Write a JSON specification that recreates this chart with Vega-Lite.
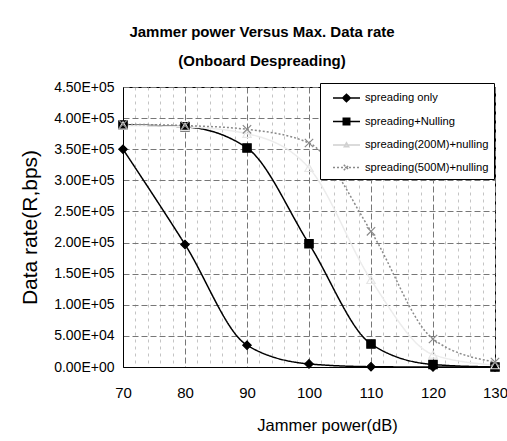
{
  "$schema": "https://vega.github.io/schema/vega-lite/v6.json",
  "width": 372,
  "height": 280,
  "autosize": {"type": "none"},
  "padding": {"left": 123, "top": 87, "right": 12, "bottom": 74},
  "background": "white",
  "config": {
    "font": "Liberation Sans",
    "view": {"stroke": "black", "strokeWidth": 1}
  },
  "title": {
    "text": ["Jammer power Versus Max. Data rate", "(Onboard Despreading)"],
    "font": "Liberation Sans",
    "fontSize": 15,
    "fontWeight": "bold",
    "color": "black",
    "lineHeight": 29,
    "anchor": "middle",
    "dx": -47,
    "offset": 11
  },
  "data": {
    "values": [
      {"series": "spreading only", "power": 70, "rate": 350000},
      {"series": "spreading only", "power": 80, "rate": 197000},
      {"series": "spreading only", "power": 90, "rate": 35000},
      {"series": "spreading only", "power": 100, "rate": 5000},
      {"series": "spreading only", "power": 110, "rate": 500},
      {"series": "spreading only", "power": 120, "rate": 0},
      {"series": "spreading only", "power": 130, "rate": 0},
      {"series": "spreading+Nulling", "power": 70, "rate": 389000},
      {"series": "spreading+Nulling", "power": 80, "rate": 386000},
      {"series": "spreading+Nulling", "power": 90, "rate": 352000},
      {"series": "spreading+Nulling", "power": 100, "rate": 198000},
      {"series": "spreading+Nulling", "power": 110, "rate": 37000},
      {"series": "spreading+Nulling", "power": 120, "rate": 4000},
      {"series": "spreading+Nulling", "power": 130, "rate": 0},
      {"series": "spreading(200M)+nulling", "power": 70, "rate": 388000},
      {"series": "spreading(200M)+nulling", "power": 80, "rate": 386000},
      {"series": "spreading(200M)+nulling", "power": 90, "rate": 375000},
      {"series": "spreading(200M)+nulling", "power": 100, "rate": 320000},
      {"series": "spreading(200M)+nulling", "power": 110, "rate": 140000},
      {"series": "spreading(200M)+nulling", "power": 120, "rate": 20000},
      {"series": "spreading(200M)+nulling", "power": 130, "rate": 3000},
      {"series": "spreading(500M)+nulling", "power": 70, "rate": 390000},
      {"series": "spreading(500M)+nulling", "power": 80, "rate": 388000},
      {"series": "spreading(500M)+nulling", "power": 90, "rate": 382000},
      {"series": "spreading(500M)+nulling", "power": 100, "rate": 360000},
      {"series": "spreading(500M)+nulling", "power": 110, "rate": 218000},
      {"series": "spreading(500M)+nulling", "power": 120, "rate": 45000},
      {"series": "spreading(500M)+nulling", "power": 130, "rate": 8000}
    ]
  },
  "encoding": {
    "x": {
      "field": "power",
      "type": "quantitative",
      "scale": {"domain": [70, 130], "nice": false, "zero": false},
      "axis": {
        "values": [70, 72, 74, 76, 78, 80, 82, 84, 86, 88, 90, 92, 94, 96, 98, 100, 102, 104, 106, 108, 110, 112, 114, 116, 118, 120, 122, 124, 126, 128, 130],
        "labelExpr": "datum.value % 10 === 0 ? datum.label : ''",
        "labelFont": "Liberation Sans Narrow, Liberation Sans",
        "labelFontSize": 15,
        "labelColor": "black",
        "labelPadding": 18,
        "labelFlush": false,
        "labelOverlap": false,
        "ticks": false,
        "domainColor": "black",
        "grid": true,
        "gridColor": {"condition": {"test": "datum.value % 10 === 0", "value": "#777777"}, "value": "#c4c4c4"},
        "gridDash": {"condition": {"test": "datum.value % 10 === 0", "value": [6, 3]}, "value": [3, 4]},
        "gridWidth": 1,
        "title": "Jammer power(dB)",
        "titleFont": "Liberation Sans",
        "titleFontSize": 16.5,
        "titleFontWeight": "normal",
        "titleColor": "black",
        "titleX": 204,
        "titleY": 58,
        "titleBaseline": "middle",
        "titleAlign": "center"
      }
    },
    "y": {
      "field": "rate",
      "type": "quantitative",
      "scale": {"domain": [0, 450000], "nice": false},
      "axis": {
        "values": [0, 50000, 100000, 150000, 200000, 250000, 300000, 350000, 400000, 450000],
        "labelExpr": "datum.value >= 100000 ? format(datum.value / 100000, '.2f') + 'E+05' : datum.value > 0 ? format(datum.value / 10000, '.2f') + 'E+04' : '0.00E+00'",
        "labelFont": "Liberation Sans Narrow, Liberation Sans",
        "labelFontSize": 14,
        "labelColor": "black",
        "labelPadding": 9,
        "labelOverlap": false,
        "labelFlush": false,
        "ticks": false,
        "domainColor": "black",
        "grid": true,
        "gridColor": "#777777",
        "gridDash": [6, 3],
        "gridWidth": 1,
        "title": "Data rate(R,bps)",
        "titleFont": "Liberation Sans",
        "titleFontSize": 21,
        "titleFontWeight": "normal",
        "titleColor": "black",
        "titleX": -93,
        "titleY": 140,
        "titleAngle": -90,
        "titleBaseline": "middle",
        "titleAlign": "center"
      }
    }
  },
  "layer": [
    {
      "mark": {"type": "line", "interpolate": "monotone", "strokeWidth": 1.5},
      "encoding": {
        "stroke": {
          "field": "series",
          "type": "nominal",
          "scale": {
            "domain": ["spreading only", "spreading+Nulling", "spreading(200M)+nulling", "spreading(500M)+nulling"],
            "range": ["#000000", "#000000", "#ececec", "#8a8a8a"]
          },
          "legend": null
        },
        "strokeDash": {
          "field": "series",
          "type": "nominal",
          "scale": {
            "domain": ["spreading only", "spreading+Nulling", "spreading(200M)+nulling", "spreading(500M)+nulling"],
            "range": [[1, 0], [1, 0], [1, 0], [2, 2]]
          },
          "legend": null
        }
      }
    },
    {
      "mark": {"type": "point", "opacity": 1, "strokeWidth": 1.2},
      "encoding": {
        "shape": {
          "field": "series",
          "type": "nominal",
          "scale": {
            "domain": ["spreading only", "spreading+Nulling", "spreading(200M)+nulling", "spreading(500M)+nulling"],
            "range": ["diamond", "square", "triangle-up", "M-1,-1L1,1M-1,1L1,-1"]
          },
          "legend": null
        },
        "fill": {
          "field": "series",
          "type": "nominal",
          "scale": {
            "domain": ["spreading only", "spreading+Nulling", "spreading(200M)+nulling", "spreading(500M)+nulling"],
            "range": ["#000000", "#000000", "transparent", "transparent"]
          },
          "legend": null
        },
        "stroke": {
          "field": "series",
          "type": "nominal",
          "scale": {
            "domain": ["spreading only", "spreading+Nulling", "spreading(200M)+nulling", "spreading(500M)+nulling"],
            "range": ["#000000", "#000000", "#e6e6e6", "#8a8a8a"]
          },
          "legend": null
        },
        "size": {"value": 70}
      }
    },
    {
      "transform": [{"filter": "false"}],
      "mark": {"type": "point", "opacity": 1, "strokeWidth": 1.5},
      "encoding": {
        "shape": {
          "field": "series",
          "type": "nominal",
          "scale": {
            "domain": ["spreading only", "spreading+Nulling", "spreading(200M)+nulling", "spreading(500M)+nulling"],
            "range": [
              "M-1.5,0H1.5M0,-0.42L0.42,0L0,0.42L-0.42,0Z",
              "M-1.5,0H1.5M-0.36,-0.36H0.36V0.36H-0.36Z",
              "M-1.5,0H1.5M0,-0.25L0.25,0.2H-0.25Z",
              "M-1.5,0H1.5M-0.3,-0.3L0.3,0.3M-0.3,0.3L0.3,-0.3"
            ]
          },
          "legend": {
            "title": null,
            "orient": "none",
            "legendX": 197,
            "legendY": -4,
            "padding": 5,
            "symbolOffset": 11.5,
            "symbolSize": 324,
            "symbolStrokeWidth": 1.5,
            "labelOffset": 8.5,
            "labelFont": "Liberation Sans Narrow, Liberation Sans",
            "labelFontSize": 11.2,
            "labelColor": "black",
            "labelLimit": 200,
            "rowPadding": 6.5,
            "fillColor": "white",
            "strokeColor": "black",
            "cornerRadius": 0
          }
        },
        "fill": {
          "field": "series",
          "type": "nominal",
          "scale": {
            "domain": ["spreading only", "spreading+Nulling", "spreading(200M)+nulling", "spreading(500M)+nulling"],
            "range": ["#000000", "#000000", "transparent", "transparent"]
          },
          "legend": {"title": null}
        },
        "stroke": {
          "field": "series",
          "type": "nominal",
          "scale": {
            "domain": ["spreading only", "spreading+Nulling", "spreading(200M)+nulling", "spreading(500M)+nulling"],
            "range": ["#000000", "#000000", "#d0d0d0", "#8a8a8a"]
          },
          "legend": {"title": null}
        },
        "strokeDash": {
          "field": "series",
          "type": "nominal",
          "scale": {
            "domain": ["spreading only", "spreading+Nulling", "spreading(200M)+nulling", "spreading(500M)+nulling"],
            "range": [[1, 0], [1, 0], [1, 0], [2, 2]]
          },
          "legend": {"title": null}
        }
      }
    }
  ],
  "resolve": {
    "scale": {"shape": "independent", "fill": "independent", "stroke": "independent", "strokeDash": "independent"},
    "legend": {"shape": "independent", "fill": "independent", "stroke": "independent", "strokeDash": "independent"}
  }
}
